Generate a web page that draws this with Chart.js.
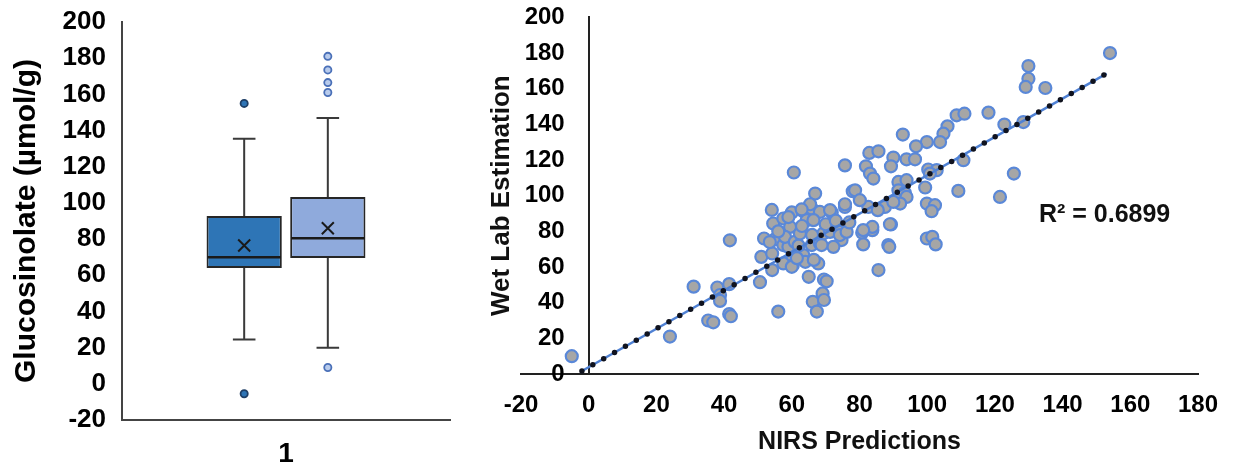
<!DOCTYPE html>
<html>
<head>
<meta charset="utf-8">
<script src="https://cdn.jsdelivr.net/npm/chart.js@4"></script>
<style>
  html, body { margin: 0; padding: 0; background: #fff; }
  #left { position: absolute; left: 0; top: 0; }
  #right { position: absolute; left: 470px; top: 0; }
</style>
</head>
<body>
<canvas id="left" width="470" height="467"></canvas>
<canvas id="right" width="766" height="467"></canvas>
<script>
// box plot (Glucosinolate, µmol/g)
const boxLabels = ['1'];
const boxNames = ['Wet lab', 'NIRS'];
const whiskerLow = [24.5, 20];
const boxQ1 = [64, 69.5];
const boxMedian = [70, 80.5];
const boxQ3 = [92.8, 103.3];
const whiskerHigh = [135.5, 147];
const boxMean = [76.5, 86];
const boxOutliers = [[155, -5.5], [181, 173.5, 166.5, 161, 9]];
const boxColors = ['#2e75b6', '#8faadc'];
const outlierFill = ['#2e75b6', '#b8cbec'];
const outlierEdge = ['#1f3f66', '#4a70b8'];

// scatter: NIRS predictions vs wet lab estimation
const nirsPred = [
  -5, 24, 31, 35.3, 36.8, 38, 38.8, 38.8, 41.7, 41.5, 41.5, 42,
  50.6, 51, 51.8, 54.2, 54.2, 55, 56, 57.5, 59, 59.5, 60.3, 63.4,
  64, 65, 66.2, 67.4, 67.8, 69.1, 69.5, 69.5, 70.3, 54.1, 54.5, 57.5,
  60, 59.5, 63.4, 65.9, 68.3, 64.4, 66.4, 71.8, 75.7, 53.5, 58, 60.9,
  62.4, 65.9, 68.3, 69.3, 71.3, 74.2, 74.7, 72.3, 57.5, 60, 61.5, 66.5,
  60.6, 75.7, 66.9, 78, 65.4, 75.7, 62.9, 71.3, 108.7, 111, 106, 104.8,
  103.8, 92.8, 99.9, 96.7, 82.9, 85.6, 90, 89.3, 93.9, 96.4, 81.9, 83.1,
  84.1, 100.3, 102.8, 100.8, 110.7, 78.7, 91.5, 93.9, 91.5, 93.4, 99.4, 109.2,
  91, 93.9, 92, 99.9, 102.3, 82.6, 87.5, 85.4, 101.3, 80.8, 83.8, 83.8,
  89.3, 81.1, 88.5, 88.8, 99.9, 101.5, 102.5, 85.6, 154, 129.9, 129.9, 129.1,
  134.9, 118.1, 122.8, 128.4, 125.6, 121.5, 80.1, 90, 89, 81.1, 68.8, 74.2,
  76.2, 59, 56, 63, 70, 73, 66, 62, 77
];
const wetLab = [
  10, 21, 49, 30, 29, 48.5, 44.3, 41, 75, 50.4, 33.6, 32.4,
  51.5, 65.7, 76, 67.6, 58.3, 75.5, 35, 72.3, 71.3, 62.9, 61, 66.7,
  62.9, 54.5, 40.5, 35, 62, 45.2, 41.5, 53, 52, 92, 84.4, 87.2,
  90.6, 82.5, 91.3, 92.8, 90.9, 86.3, 86.3, 90.6, 93.7, 74, 76.9, 74.1,
  78.8, 72.3, 73.2, 78.8, 79.7, 79.7, 75.1, 71.3, 62, 60.1, 65, 64,
  113, 117, 101.2, 102.5, 95.2, 95.2, 92.3, 91.9, 145.1, 146, 138.9, 134.8,
  130.1, 134.3, 130.1, 127.7, 124, 124.9, 121.4, 116.5, 120.4, 120.4, 116.5, 112.4,
  109.6, 114.7, 114.3, 112.4, 119.9, 103, 107.7, 108.7, 103, 101.6, 104.6, 102.7,
  97.5, 99.3, 95.6, 95.6, 94.7, 93.7, 93.7, 91.9, 91.3, 79.2, 80.7, 82.5,
  83.9, 72.7, 72.3, 71.3, 76, 76.9, 72.7, 58.3, 180, 172.7, 165.6, 161,
  160.4, 146.6, 139.9, 141.3, 112.4, 99.3, 97.5, 96.5, 84, 80.7, 72.3, 77.9,
  79.7, 88, 80, 83, 84, 86, 78, 72, 85
];
// linear trendline end points
const trendX = [-2, 153];
const trendY = [1.7, 168.5];
const rSquaredText = 'R² = 0.6899';

Chart.defaults.font.family = '"Liberation Sans", Arial, sans-serif';
Chart.defaults.color = '#000';

// whiskers, median, mean marker and outliers on top of the floating bars
const boxPlotExtras = {
  id: 'boxPlotExtras',
  afterDatasetsDraw(chart) {
    const ctx = chart.ctx;
    const y = chart.scales.y;
    const py = v => y.getPixelForValue(v);
    chart.data.datasets.forEach((ds, i) => {
      const bar = chart.getDatasetMeta(i).data[0];
      const cx = bar.x;
      const half = bar.width / 2;
      const cap = bar.width * 0.15;
      ctx.save();
      ctx.strokeStyle = '#3a3a3a';
      ctx.lineWidth = 2;
      ctx.beginPath();
      ctx.moveTo(cx, py(boxQ3[i]));
      ctx.lineTo(cx, py(whiskerHigh[i]));
      ctx.moveTo(cx - cap, py(whiskerHigh[i]));
      ctx.lineTo(cx + cap, py(whiskerHigh[i]));
      ctx.moveTo(cx, py(boxQ1[i]));
      ctx.lineTo(cx, py(whiskerLow[i]));
      ctx.moveTo(cx - cap, py(whiskerLow[i]));
      ctx.lineTo(cx + cap, py(whiskerLow[i]));
      ctx.stroke();

      // median
      ctx.strokeStyle = '#1a1a1a';
      ctx.lineWidth = 2.5;
      ctx.beginPath();
      ctx.moveTo(cx - half + 1, py(boxMedian[i]));
      ctx.lineTo(cx + half - 1, py(boxMedian[i]));
      ctx.stroke();

      // mean
      const my = py(boxMean[i]);
      const s = 6;
      ctx.lineWidth = 2;
      ctx.beginPath();
      ctx.moveTo(cx - s, my - s);
      ctx.lineTo(cx + s, my + s);
      ctx.moveTo(cx + s, my - s);
      ctx.lineTo(cx - s, my + s);
      ctx.stroke();

      // outliers
      ctx.fillStyle = outlierFill[i];
      ctx.strokeStyle = outlierEdge[i];
      ctx.lineWidth = 1.8;
      boxOutliers[i].forEach(v => {
        ctx.beginPath();
        ctx.arc(cx, py(v), 3.6, 0, Math.PI * 2);
        ctx.fill();
        ctx.stroke();
      });
      ctx.restore();
    });
  }
};

new Chart(document.getElementById('left'), {
  type: 'bar',
  data: {
    labels: boxLabels,
    datasets: boxNames.map((name, i) => ({
      label: name,
      data: [[boxQ1[i], boxQ3[i]]],
      backgroundColor: boxColors[i],
      borderColor: '#262626',
      borderWidth: 2,
      borderSkipped: false,
      categoryPercentage: 0.51,
      barPercentage: 0.9
    }))
  },
  options: {
    responsive: false,
    animation: false,
    layout: { padding: { left: 5, top: 22, right: 20, bottom: 0 } },
    plugins: { legend: { display: false }, tooltip: { enabled: false } },
    scales: {
      x: {
        grid: { display: false, drawTicks: false },
        border: { color: '#444', width: 2 },
        ticks: { font: { size: 28, weight: 'bold' }, color: '#000', padding: 17 },
        afterFit(s) { s.height = 47; }
      },
      y: {
        min: -20,
        max: 200,
        ticks: { stepSize: 20, font: { size: 26, weight: 'bold' }, color: '#000', padding: 16 },
        grid: { display: false, drawTicks: false },
        border: { color: '#444', width: 2 },
        title: {
          display: true,
          text: 'Glucosinolate (µmol/g)',
          font: { size: 30, weight: 'bold' },
          color: '#000',
          padding: { top: 4, bottom: 4 }
        },
        afterFit(s) {
          s.width = 117;
          s.paddingTop = 10;
          s.paddingBottom = 10;
        }
      }
    }
  },
  plugins: [boxPlotExtras]
});

const r2Label = {
  id: 'r2Label',
  afterDatasetsDraw(chart) {
    const { ctx, scales: { x, y } } = chart;
    ctx.save();
    ctx.font = 'bold 25px "Liberation Sans", Arial, sans-serif';
    ctx.fillStyle = '#111';
    ctx.textAlign = 'left';
    ctx.textBaseline = 'middle';
    ctx.fillText(rSquaredText, x.getPixelForValue(133), y.getPixelForValue(89));
    ctx.restore();
  }
};

const trendPts = trendX.map((v, i) => ({ x: v, y: trendY[i] }));

new Chart(document.getElementById('right'), {
  type: 'scatter',
  data: {
    datasets: [
      {
        type: 'line',
        data: trendPts,
        borderColor: '#10131f',
        borderWidth: 5.5,
        borderDash: [0, 12.5],
        borderCapStyle: 'round',
        pointRadius: 0,
        fill: false
      },
      {
        type: 'line',
        data: trendPts,
        borderColor: '#4f81d4',
        borderWidth: 2.5,
        pointRadius: 0,
        fill: false
      },
      {
        data: nirsPred.map((v, i) => ({ x: v, y: wetLab[i] })),
        backgroundColor: '#a6a6a6',
        borderColor: '#5a88d8',
        borderWidth: 2.2,
        pointRadius: 6
      }
    ]
  },
  options: {
    responsive: false,
    animation: false,
    layout: { padding: { left: 12, top: 8, right: 38, bottom: 6 } },
    plugins: { legend: { display: false }, tooltip: { enabled: false } },
    scales: {
      x: {
        type: 'linear',
        position: 'bottom',
        min: -20,
        max: 180,
        ticks: { stepSize: 20, font: { size: 24, weight: 'bold' }, color: '#000', padding: 17 },
        grid: { display: false, drawTicks: false },
        border: { color: '#222', width: 2 },
        title: {
          display: true,
          text: 'NIRS Predictions',
          font: { size: 25, weight: 'bold' },
          color: '#111',
          padding: { top: 4, bottom: 4 }
        },
        afterFit(s) { s.height = 87; }
      },
      y: {
        type: 'linear',
        position: { x: 0 },
        min: 0,
        max: 200,
        ticks: {
          stepSize: 20,
          font: { size: 24, weight: 'bold' },
          color: '#000',
          // labels sit a little left of the axis line
          callback: v => v + '\u2002\u2002'
        },
        grid: { display: false, drawTicks: false },
        border: { color: '#222', width: 2 },
        afterFit(s) { s.width = 0; }
      },
      yt: {
        type: 'linear',
        position: 'left',
        min: 0,
        max: 1,
        grid: { display: false, drawTicks: false },
        border: { display: false },
        ticks: { display: false },
        title: {
          display: true,
          text: 'Wet Lab Estimation',
          font: { size: 26, weight: 'bold' },
          color: '#111',
          padding: { top: 4, bottom: 4 }
        },
        afterFit(s) { s.width = 39; }
      }
    }
  },
  plugins: [r2Label]
});
</script>
</body>
</html>
